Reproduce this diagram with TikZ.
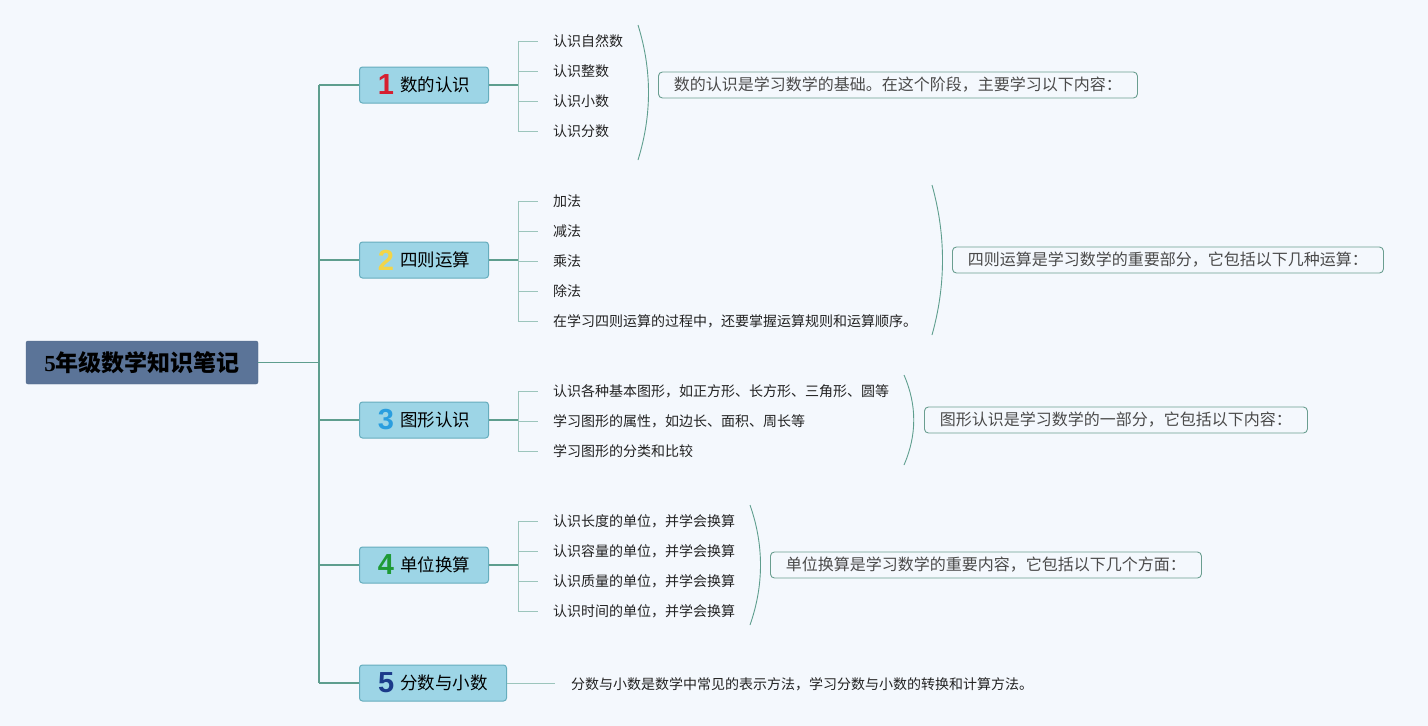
\documentclass[tikz,border=0pt]{standalone}
\usepackage{fontspec}
\setmainfont{Liberation Serif}
\newfontfamily\cjk{Noto Sans CJK SC}
\newfontfamily\numf{Liberation Sans}
\newcommand{\bnum}[2]{{\color{#1}\numf\bfseries\fontsize{29}{29}\selectfont #2}}
\newcommand{\blab}[1]{\raisebox{3.5pt}{#1}}
\definecolor{bg}{HTML}{F4F8FD}
\definecolor{rootfill}{HTML}{5B7498}
\definecolor{rootdraw}{HTML}{4E6687}
\definecolor{brfill}{HTML}{9DD5E6}
\definecolor{brdraw}{HTML}{66ADBD}
\definecolor{trunkc}{HTML}{5E9E8E}
\definecolor{twigc}{HTML}{9CC5BC}
\definecolor{sumdraw}{HTML}{6A9E90}
\definecolor{sumtext}{HTML}{4A4A4A}
\definecolor{childtext}{HTML}{222222}
\definecolor{n1}{HTML}{D61F30}
\definecolor{n2}{HTML}{F3D548}
\definecolor{n3}{HTML}{2A9EDF}
\definecolor{n4}{HTML}{1E9A35}
\definecolor{n5}{HTML}{1B3A8A}
\tikzset{
  rootbox/.style={fill=rootfill, draw=rootdraw, rounded corners=2pt, minimum width=232, minimum height=43, inner sep=0pt, font=\bfseries\fontsize{23}{23}\selectfont, text=black},
  brbox/.style={fill=brfill, draw=brdraw, line width=1pt, rounded corners=3pt, minimum height=36, inner sep=0pt, anchor=west, font=\cjk\fontsize{17.5}{17.5}\selectfont, text=black},
  childn/.style={anchor=west, inner sep=0pt, font=\cjk\fontsize{14}{14}\selectfont, text=childtext},
  sumbox/.style={anchor=west, draw=sumdraw, line width=0.9pt, rounded corners=4pt, minimum height=26, inner xsep=15.5pt, inner ysep=0pt, font=\cjk\fontsize{16}{16}\selectfont, text=sumtext, fill=bg},
  trunk/.style={draw=trunkc, line width=1.2pt},
  twig/.style={draw=twigc, line width=1pt},
  arcl/.style={draw=trunkc, line width=0.9pt},
}
\begin{document}
\begin{tikzpicture}[x=1pt,y=-1pt]
\fill[bg] (0,0) rectangle (1428,726);
\useasboundingbox (0,0) rectangle (1428,726);

% root
\node[rootbox] (root) at (142,362.5) {5{\cjk 年级数学知识笔记}};

% trunk coordinates
\coordinate (tr) at (319,362.5);
\coordinate (t1) at (319,85);
\coordinate (t2) at (319,260);
\coordinate (t3) at (319,420);
\coordinate (t4) at (319,565);
\coordinate (t5) at (319,683);
\draw[trunk] (root.east) -- (tr);
\draw[trunk] (t1) -- (t5);

% branch boxes
\node[brbox, minimum width=129] (b1) at (359,85) {\bnum{n1}{1}\hspace{6pt}\blab{数的认识}};
\node[brbox, minimum width=129] (b2) at (359,260) {\bnum{n2}{2}\hspace{6pt}\blab{四则运算}};
\node[brbox, minimum width=129] (b3) at (359,420) {\bnum{n3}{3}\hspace{6pt}\blab{图形认识}};
\node[brbox, minimum width=129] (b4) at (359,565) {\bnum{n4}{4}\hspace{6pt}\blab{单位换算}};
\node[brbox, minimum width=147] (b5) at (359,683) {\bnum{n5}{5}\hspace{6pt}\blab{分数与小数}};
\foreach \i in {1,...,5} {\draw[trunk] (t\i) -- (b\i.west);}

% branch 1 children
\coordinate (k1) at (518,85);
\draw[trunk] (b1.east) -- (k1);
\draw[twig] (518,41) -- (518,131);
\foreach \y/\n/\t in {41/1/认识自然数, 71/2/认识整数, 101/3/认识小数, 131/4/认识分数} {
  \node[childn] (c1\n) at (553,\y) {\t};
  \coordinate (d1\n) at (538,\y);
  \draw[twig] (518,\y) -- (d1\n);
}
\coordinate (a1s) at (638,25); \coordinate (a1e) at (638,160);
\draw[arcl] (a1s) .. controls (652,70) and (652,115) .. (a1e);
\node[sumbox] (s1) at (658,85) {数的认识是学习数学的基础。在这个阶段，主要学习以下内容：};

% branch 2 children
\coordinate (k2) at (518,260);
\draw[trunk] (b2.east) -- (k2);
\draw[twig] (518,201) -- (518,321);
\foreach \y/\n/\t in {201/1/加法, 231/2/减法, 261/3/乘法, 291/4/除法, 321/5/在学习四则运算的过程中，还要掌握运算规则和运算顺序。} {
  \node[childn] (c2\n) at (553,\y) {\t};
  \coordinate (d2\n) at (538,\y);
  \draw[twig] (518,\y) -- (d2\n);
}
\coordinate (a2s) at (932,185); \coordinate (a2e) at (932,335);
\draw[arcl] (a2s) .. controls (946,235) and (946,285) .. (a2e);
\node[sumbox] (s2) at (952,260) {四则运算是学习数学的重要部分，它包括以下几种运算：};

% branch 3 children
\coordinate (k3) at (518,420);
\draw[trunk] (b3.east) -- (k3);
\draw[twig] (518,391) -- (518,451);
\foreach \y/\n/\t in {391/1/认识各种基本图形，如正方形、长方形、三角形、圆等, 421/2/学习图形的属性，如边长、面积、周长等, 451/3/学习图形的分类和比较} {
  \node[childn] (c3\n) at (553,\y) {\t};
  \coordinate (d3\n) at (538,\y);
  \draw[twig] (518,\y) -- (d3\n);
}
\coordinate (a3s) at (904,375); \coordinate (a3e) at (904,465);
\draw[arcl] (a3s) .. controls (917,405) and (917,435) .. (a3e);
\node[sumbox] (s3) at (924,420) {图形认识是学习数学的一部分，它包括以下内容：};

% branch 4 children
\coordinate (k4) at (518,565);
\draw[trunk] (b4.east) -- (k4);
\draw[twig] (518,521) -- (518,611);
\foreach \y/\n/\t in {521/1/认识长度的单位，并学会换算, 551/2/认识容量的单位，并学会换算, 581/3/认识质量的单位，并学会换算, 611/4/认识时间的单位，并学会换算} {
  \node[childn] (c4\n) at (553,\y) {\t};
  \coordinate (d4\n) at (538,\y);
  \draw[twig] (518,\y) -- (d4\n);
}
\coordinate (a4s) at (750,505); \coordinate (a4e) at (750,625);
\draw[arcl] (a4s) .. controls (764,545) and (764,585) .. (a4e);
\node[sumbox] (s4) at (770,565) {单位换算是学习数学的重要内容，它包括以下几个方面：};

% branch 5
\node[childn] (c51) at (571,684) {分数与小数是数学中常见的表示方法，学习分数与小数的转换和计算方法。};
\coordinate (k5) at (555,683);
\draw[twig] (b5.east) -- (k5);
\end{tikzpicture}
\end{document}
